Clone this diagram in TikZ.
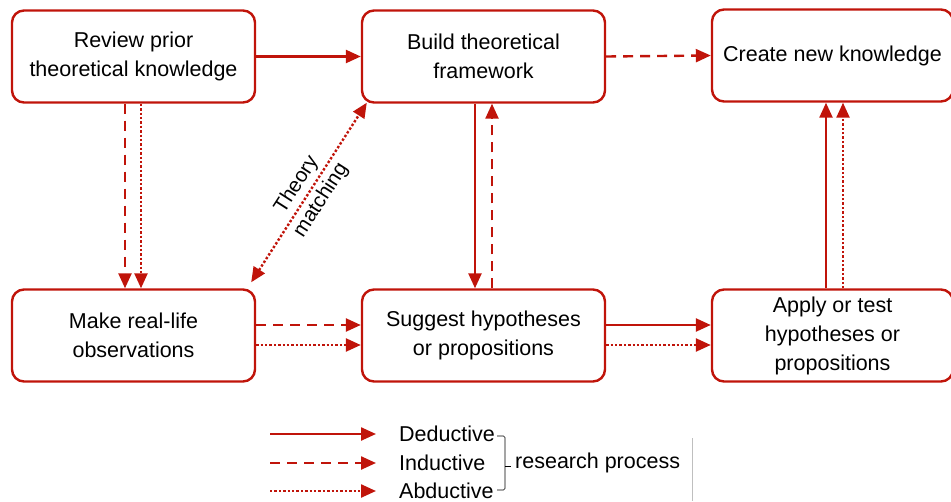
\documentclass[tikz,border=0pt]{standalone}
\usepackage{fontspec}
\setmainfont{Liberation Sans}
\usetikzlibrary{arrows.meta}
\definecolor{rr}{RGB}{192,20,10}
\begin{document}
\begin{tikzpicture}[x=1pt,y=-1pt,
 box/.style={draw=rr,line width=2.4pt,rounded corners=12pt,minimum width=243pt,minimum height=92pt,align=center,font=\fontsize{21.5}{29}\selectfont,inner sep=0pt},
 tip/.tip={Triangle[length=15pt,width=13pt]},
 conn/.style={draw=rr,line width=2.4pt,-tip},
 ded/.style={conn},
 ind/.style={conn,dash pattern=on 10pt off 7pt},
 abd/.style={conn,dash pattern=on 2.4pt off 2pt},
 lbl/.style={font=\fontsize{21.5}{24}\selectfont,inner sep=0pt}
]
\useasboundingbox (0,0) rectangle (951,501);
\node[box] (review) at (133.5,56.5) {Review prior\\theoretical knowledge};
\node[box] (build) at (483.5,56.5) {Build theoretical\\framework};
\node[box,minimum width=241pt] (create) at (832.5,55.5) {Create new knowledge};
\node[box] (make) at (133.5,335.5) {Make real-life\\observations};
\node[box] (suggest) at (483.5,335.5) {Suggest hypotheses\\or propositions};
\node[box,minimum width=241pt] (apply) at (832.5,335.5) {Apply or test\\hypotheses or\\propositions};

\draw[ded] (review.east) -- (build.west);
\draw[ind] (build.east) -- (create.west);
\draw[ind] (review.south -| 125,0) -- (make.north -| 125,0);
\draw[abd] (review.south -| 141,0) -- (make.north -| 141,0);
\draw[ded] (build.south -| 475,0) -- (suggest.north -| 475,0);
\draw[ind] (suggest.north -| 492,0) -- (build.south -| 492,0);
\draw[ind] (make.east |- 0,325) -- (suggest.west |- 0,325);
\draw[abd] (make.east |- 0,345) -- (suggest.west |- 0,345);
\draw[ded] (suggest.east |- 0,325) -- (apply.west |- 0,325);
\draw[abd] (suggest.east |- 0,345) -- (apply.west |- 0,345);
\draw[ded] (apply.north -| 826,0) -- (create.south -| 826,0);
\draw[abd] (apply.north -| 843,0) -- (create.south -| 843,0);
\draw[abd,tip-tip] ([shift={(-5,-6)}]make.north east) -- node[lbl,sloped,align=center,font=\fontsize{20.5}{29}\selectfont] (tm) {Theory\\matching} ([shift={(6,-1)}]build.south west);

% legend
\coordinate (d1) at (270,434); \coordinate (d2) at (376,434);
\coordinate (i1) at (270,463); \coordinate (i2) at (376,463);
\coordinate (a1) at (270,491); \coordinate (a2) at (376,491);
\draw[ded] (d1) -- (d2);
\draw[ind] (i1) -- (i2);
\draw[abd] (a1) -- (a2);
\node[lbl,anchor=west] (dl) at (399,434) {Deductive};
\node[lbl,anchor=west] (il) at (399,463) {Inductive};
\node[lbl,anchor=west] (al) at (399,491) {Abductive};
\draw[line width=0.6pt,rounded corners=1.5pt] (497,436) -- (505,436) -- (505,490) -- (497,490);
\draw[line width=0.6pt] (505,466) -- (511,466);
\node[lbl,anchor=west] (rp) at (515,463) {research process};
\draw[black!25,line width=0.8pt] (692,438) -- (692,501);
\end{tikzpicture}
\end{document}
